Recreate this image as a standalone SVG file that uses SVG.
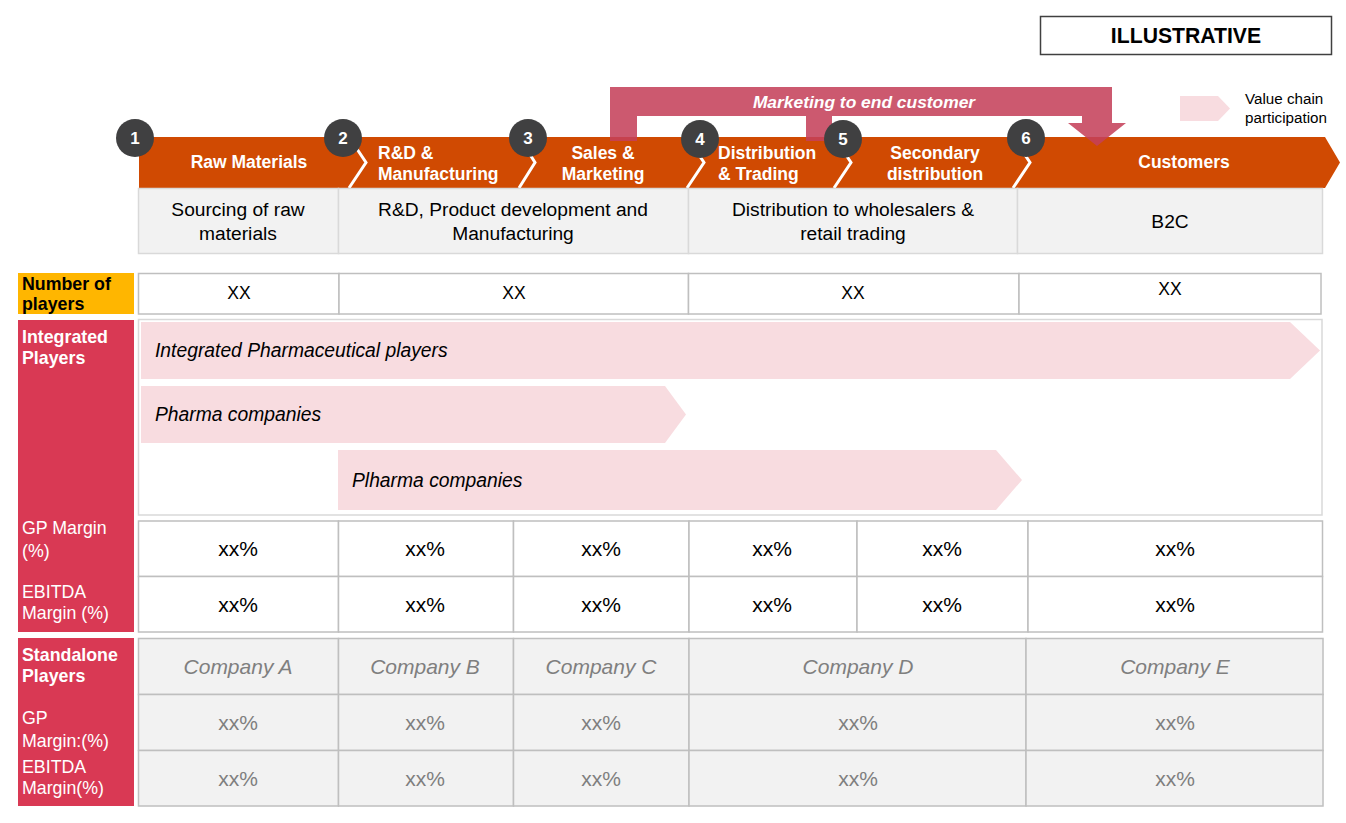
<svg xmlns="http://www.w3.org/2000/svg" width="1346" height="823" viewBox="0 0 1346 823">
<style>
text{font-family:"Liberation Sans",Arial,sans-serif;}
.seg{fill:#d04a02;}
.sep{fill:none;stroke:#ffffff;stroke-width:3;}
.stage{fill:#ffffff;font-weight:bold;font-size:17.5px;}
.badge{fill:#404041;}
.badgeT{fill:#ffffff;font-weight:bold;font-size:17px;text-anchor:middle;}
.desc{fill:#f2f2f2;stroke:#d9d9d9;stroke-width:1.5;}
.descT{fill:#000;font-size:19.2px;text-anchor:middle;}
.cell{fill:#ffffff;stroke:#bfbfbf;stroke-width:1.5;}
.gcell{fill:#f2f2f2;stroke:#bfbfbf;stroke-width:1.5;}
.xx{fill:#000;font-size:17.5px;text-anchor:middle;}
.pct{fill:#000;font-size:21px;text-anchor:middle;}
.gpct{fill:#7f7f7f;font-size:21px;text-anchor:middle;}
.comp{fill:#7f7f7f;font-size:21px;font-style:italic;text-anchor:middle;}
.lbl{fill:#d93954;}
.lblT{fill:#ffffff;font-size:17.8px;}
.lblB{fill:#ffffff;font-size:17.8px;font-weight:bold;}
.pink{fill:#f8dce0;}
.pinkT{fill:#000;font-size:19.3px;font-style:italic;}
</style>

<!-- Illustrative tag -->
<g id="illustrative">
<rect x="1040.5" y="16.5" width="291" height="38" fill="#ffffff" stroke="#404040" stroke-width="1.5"/>
<text x="1186" y="43" font-size="21.2" font-weight="bold" text-anchor="middle" fill="#000">ILLUSTRATIVE</text>
</g>

<!-- Legend -->
<g id="legend">
<polygon class="pink" points="1180,96 1218,96 1230,108.5 1218,121 1180,121"/>
<text x="1245" y="104" font-size="15.2" fill="#000">Value chain</text>
<text x="1245" y="123" font-size="15.2" fill="#000">participation</text>
</g>

<!-- Value chain stages -->
<g id="stage-1">
<polygon class="seg" points="139,137 349,137 366,162.5 349,188 139,188"/>
<text class="stage" x="249" y="168" text-anchor="middle">Raw Materials</text>
</g>
<g id="stage-2">
<polygon class="seg" points="349,137 519,137 535,162.5 519,188 349,188 366,162.5"/>
<polyline class="sep" points="349,137 366,162.5 349,188"/>
<text class="stage" x="378" y="159">R&amp;D &amp;</text>
<text class="stage" x="378" y="180">Manufacturing</text>
</g>
<g id="stage-3">
<polygon class="seg" points="519,137 687,137 704,162.5 687,188 519,188 535,162.5"/>
<polyline class="sep" points="519,137 535,162.5 519,188"/>
<text class="stage" x="603" y="159" text-anchor="middle">Sales &amp;</text>
<text class="stage" x="603" y="180" text-anchor="middle">Marketing</text>
</g>
<g id="stage-4">
<polygon class="seg" points="687,137 834,137 851,162.5 834,188 687,188 704,162.5"/>
<polyline class="sep" points="687,137 704,162.5 687,188"/>
<text class="stage" x="718" y="159">Distribution</text>
<text class="stage" x="718" y="180">&amp; Trading</text>
</g>
<g id="stage-5">
<polygon class="seg" points="834,137 1013,137 1030,162.5 1013,188 834,188 851,162.5"/>
<polyline class="sep" points="834,137 851,162.5 834,188"/>
<text class="stage" x="935" y="159" text-anchor="middle">Secondary</text>
<text class="stage" x="935" y="180" text-anchor="middle">distribution</text>
</g>
<g id="stage-6">
<polygon class="seg" points="1013,137 1325,137 1340,162.5 1325,188 1013,188 1030,162.5"/>
<polyline class="sep" points="1013,137 1030,162.5 1013,188"/>
<text class="stage" x="1184" y="168" text-anchor="middle">Customers</text>
</g>

<!-- Connectors -->
<g id="connectors">
<path d="M610,87 H1112 V123 H1126 L1097,146 L1068,123 H1082 V116 H832 V141 H806 V116 H637 V141 H610 Z" fill="#c4405a" opacity="0.87"/>
<text x="864" y="108" font-size="17.4" font-weight="bold" font-style="italic" fill="#ffffff" text-anchor="middle">Marketing to end customer</text>
</g>

<!-- Badges -->
<g id="badge-1"><circle class="badge" cx="135" cy="138" r="19"/><text class="badgeT" x="135" y="144">1</text></g>
<g id="badge-2"><circle class="badge" cx="343" cy="138" r="19"/><text class="badgeT" x="343" y="144">2</text></g>
<g id="badge-3"><circle class="badge" cx="528" cy="138" r="19"/><text class="badgeT" x="528" y="144">3</text></g>
<g id="badge-4"><circle class="badge" cx="700" cy="139" r="19"/><text class="badgeT" x="700" y="145">4</text></g>
<g id="badge-5"><circle class="badge" cx="843" cy="139" r="19"/><text class="badgeT" x="843" y="145">5</text></g>
<g id="badge-6"><circle class="badge" cx="1026" cy="138" r="19"/><text class="badgeT" x="1026" y="144">6</text></g>

<!-- Descriptions -->
<g id="desc-1">
<rect class="desc" x="138.5" y="188.5" width="200" height="65"/>
<text class="descT" x="238" y="216">Sourcing of raw</text>
<text class="descT" x="238" y="240">materials</text>
</g>
<g id="desc-2">
<rect class="desc" x="338.5" y="188.5" width="350" height="65"/>
<text class="descT" x="513" y="216">R&amp;D, Product development and</text>
<text class="descT" x="513" y="240">Manufacturing</text>
</g>
<g id="desc-3">
<rect class="desc" x="688.5" y="188.5" width="329" height="65"/>
<text class="descT" x="853" y="216">Distribution to wholesalers &amp;</text>
<text class="descT" x="853" y="240">retail trading</text>
</g>
<g id="desc-4">
<rect class="desc" x="1017.5" y="188.5" width="305" height="65"/>
<text class="descT" x="1170" y="228">B2C</text>
</g>

<!-- Number of players -->
<g id="number-of-players">
<rect x="18" y="273" width="116" height="41" fill="#ffb600"/>
<text x="22" y="290" font-size="17.8" font-weight="bold" fill="#000">Number of</text>
<text x="22" y="310" font-size="17.8" font-weight="bold" fill="#000">players</text>
<rect class="cell" x="138.5" y="273.5" width="200.5" height="40.5"/>
<rect class="cell" x="339" y="273.5" width="349.5" height="40.5"/>
<rect class="cell" x="688.5" y="273.5" width="330.5" height="40.5"/>
<rect class="cell" x="1019" y="273.5" width="302" height="40.5"/>
<text class="xx" x="239" y="299">XX</text>
<text class="xx" x="514" y="299">XX</text>
<text class="xx" x="853" y="299">XX</text>
<text class="xx" x="1170" y="295">XX</text>
</g>

<!-- Integrated players -->
<g id="integrated-players">
<rect class="lbl" x="18" y="320" width="116" height="312"/>
<text class="lblB" x="22" y="343">Integrated</text>
<text class="lblB" x="22" y="364">Players</text>
<text class="lblT" x="22" y="534">GP Margin</text>
<text class="lblT" x="22" y="557">(%)</text>
<text class="lblT" x="22" y="598">EBITDA</text>
<text class="lblT" x="22" y="619">Margin (%)</text>
<rect x="138.5" y="319.5" width="1183.5" height="195.5" fill="#ffffff" stroke="#d9d9d9" stroke-width="1.5"/>
<polygon class="pink" points="141,322 1290,322 1320,350.5 1290,379 141,379"/>
<text class="pinkT" x="155" y="357">Integrated Pharmaceutical players</text>
<polygon class="pink" points="141,386 665,386 686,414.5 665,443 141,443"/>
<text class="pinkT" x="155" y="421">Pharma companies</text>
<polygon class="pink" points="338,450 996,450 1022,480 996,510 338,510"/>
<text class="pinkT" x="352" y="487">Plharma companies</text>
</g>

<!-- Integrated margins table -->
<g id="integrated-margins">
<rect class="cell" x="138.5" y="521" width="200" height="55.5"/>
<rect class="cell" x="338.5" y="521" width="175" height="55.5"/>
<rect class="cell" x="513.5" y="521" width="175.5" height="55.5"/>
<rect class="cell" x="689" y="521" width="168" height="55.5"/>
<rect class="cell" x="857" y="521" width="171" height="55.5"/>
<rect class="cell" x="1028" y="521" width="294.5" height="55.5"/>
<rect class="cell" x="138.5" y="576.5" width="200" height="55.5"/>
<rect class="cell" x="338.5" y="576.5" width="175" height="55.5"/>
<rect class="cell" x="513.5" y="576.5" width="175.5" height="55.5"/>
<rect class="cell" x="689" y="576.5" width="168" height="55.5"/>
<rect class="cell" x="857" y="576.5" width="171" height="55.5"/>
<rect class="cell" x="1028" y="576.5" width="294.5" height="55.5"/>
<text class="pct" x="238" y="556">xx%</text>
<text class="pct" x="425" y="556">xx%</text>
<text class="pct" x="601" y="556">xx%</text>
<text class="pct" x="772" y="556">xx%</text>
<text class="pct" x="942" y="556">xx%</text>
<text class="pct" x="1175" y="556">xx%</text>
<text class="pct" x="238" y="612">xx%</text>
<text class="pct" x="425" y="612">xx%</text>
<text class="pct" x="601" y="612">xx%</text>
<text class="pct" x="772" y="612">xx%</text>
<text class="pct" x="942" y="612">xx%</text>
<text class="pct" x="1175" y="612">xx%</text>
</g>

<!-- Standalone players -->
<g id="standalone-players">
<rect class="lbl" x="18" y="638" width="116" height="168"/>
<text class="lblB" x="22" y="661">Standalone</text>
<text class="lblB" x="22" y="682">Players</text>
<text class="lblT" x="22" y="724">GP</text>
<text class="lblT" x="22" y="747">Margin:(%)</text>
<text class="lblT" x="22" y="773">EBITDA</text>
<text class="lblT" x="22" y="794">Margin(%)</text>

<rect class="gcell" x="138.5" y="638.5" width="200" height="56"/>
<rect class="gcell" x="338.5" y="638.5" width="175" height="56"/>
<rect class="gcell" x="513.5" y="638.5" width="175.5" height="56"/>
<rect class="gcell" x="689" y="638.5" width="337" height="56"/>
<rect class="gcell" x="1026" y="638.5" width="297" height="56"/>
<rect class="gcell" x="138.5" y="694.5" width="200" height="56"/>
<rect class="gcell" x="338.5" y="694.5" width="175" height="56"/>
<rect class="gcell" x="513.5" y="694.5" width="175.5" height="56"/>
<rect class="gcell" x="689" y="694.5" width="337" height="56"/>
<rect class="gcell" x="1026" y="694.5" width="297" height="56"/>
<rect class="gcell" x="138.5" y="750.5" width="200" height="55.5"/>
<rect class="gcell" x="338.5" y="750.5" width="175" height="55.5"/>
<rect class="gcell" x="513.5" y="750.5" width="175.5" height="55.5"/>
<rect class="gcell" x="689" y="750.5" width="337" height="55.5"/>
<rect class="gcell" x="1026" y="750.5" width="297" height="55.5"/>

<text class="comp" x="238" y="674">Company A</text>
<text class="comp" x="425" y="674">Company B</text>
<text class="comp" x="601" y="674">Company C</text>
<text class="comp" x="858" y="674">Company D</text>
<text class="comp" x="1175" y="674">Company E</text>
<text class="gpct" x="238" y="730">xx%</text>
<text class="gpct" x="425" y="730">xx%</text>
<text class="gpct" x="601" y="730">xx%</text>
<text class="gpct" x="858" y="730">xx%</text>
<text class="gpct" x="1175" y="730">xx%</text>
<text class="gpct" x="238" y="786">xx%</text>
<text class="gpct" x="425" y="786">xx%</text>
<text class="gpct" x="601" y="786">xx%</text>
<text class="gpct" x="858" y="786">xx%</text>
<text class="gpct" x="1175" y="786">xx%</text>
</g>
</svg>
